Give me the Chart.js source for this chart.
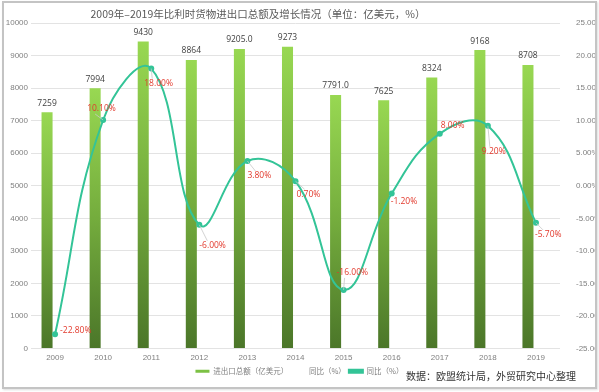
<!DOCTYPE html>
<html>
<head>
<meta charset="utf-8">
<script src="https://cdn.jsdelivr.net/npm/chart.js@4/dist/chart.umd.min.js"></script>
<style>
    html, body { margin: 0; padding: 0; background: #fff; }
    #wrap { position: relative; width: 599px; height: 392px; overflow: hidden; font-family: "Noto Sans CJK SC", "Noto Sans", sans-serif; }
    #frame { position: absolute; left: 2px; top: 1px; right: 2px; bottom: 3px; border: 2px solid #c4c4c4; box-shadow: 1px 1px 2px #ddd; pointer-events: none; }
    #chart { position: absolute; left: 0; top: 0; }
    #title { position: absolute; left: 0; width: 516px; top: 6px; text-align: center; font-size: 10.5px; color: #595959; }
    #source { position: absolute; left: 406px; top: 368px; font-size: 10px; color: #333; }
</style>
</head>
<body>
<div id="wrap">
    <canvas id="chart" width="599" height="392"></canvas>
    <div id="title">2009年–2019年比利时货物进出口总额及增长情况（单位：亿美元，%）</div>
    <div id="source">数据：欧盟统计局，外贸研究中心整理</div>
    <div id="frame"></div>
</div>
<script>
// Data
const years = ["2009", "2010", "2011", "2012", "2013", "2014", "2015", "2016", "2017", "2018", "2019"];
const tradeTotal = [7259, 7994, 9430, 8864, 9205, 9273, 7791, 7625, 8324, 9168, 8708];
const tradeTotalText = ["7259", "7994", "9430", "8864", "9205.0", "9273", "7791.0", "7625", "8324", "9168", "8708"];
const yoyGrowth = [-22.8, 10.1, 18.0, -6.0, 3.8, 0.7, -16.0, -1.2, 8.0, 9.2, -5.7];

// Where each growth label sits relative to its point (dx to left edge, dy to middle)
const growthLabelOffsets = [[5, -4], [-16, -11], [-7, 15], [0, 21], [0, 15], [1, 13], [-7, -17], [-1, 8], [1, -8], [-6, 26], [-1, 12]];

const TICK_COLOR = "#808080";
const GRID_COLOR = "#e3e3e3";
const LINE_COLOR = "#33c497";
const BAR_SWATCH = "#7cc144";

function barGradient(ctx) {
    const chart = ctx.chart;
    if (!chart.chartArea || ctx.raw == null) return BAR_SWATCH;
    const y = chart.scales.y;
    const top = y.getPixelForValue(ctx.raw);
    const bottom = y.getPixelForValue(0);
    const g = chart.ctx.createLinearGradient(0, top, 0, bottom);
    g.addColorStop(0, "#98d852");
    g.addColorStop(0.5, "#74ac3d");
    g.addColorStop(1, "#4b7629");
    return g;
}

// Draws the value labels above the bars and the growth labels near the line
const valueLabels = {
    id: "valueLabels",
    afterDatasetsDraw(chart) {
        const ctx = chart.ctx;
        ctx.save();
        ctx.textBaseline = "middle";

        const bars = chart.getDatasetMeta(0).data;
        ctx.font = "8.5px 'Open Sans', 'Noto Sans', sans-serif";
        ctx.fillStyle = "#404040";
        ctx.textAlign = "center";
        bars.forEach((bar, i) => {
            ctx.fillText(tradeTotalText[i], bar.x, bar.y - 9);
        });

        const points = chart.getDatasetMeta(2).data;
        ctx.textAlign = "left";
        points.forEach((pt, i) => {
            const [dx, dy] = growthLabelOffsets[i];
            const lx = pt.x + dx;
            const ly = pt.y + dy;
            if (Math.abs(dy) > 10) {
                ctx.strokeStyle = "#c8c8c8";
                ctx.lineWidth = 0.8;
                ctx.beginPath();
                ctx.moveTo(pt.x, pt.y);
                ctx.lineTo(lx + 8, ly + (dy > 0 ? -5 : 5));
                ctx.stroke();
            }
            ctx.font = "8.5px 'Open Sans', 'Noto Sans', sans-serif";
            ctx.fillStyle = "#e2392c";
            ctx.fillText(yoyGrowth[i].toFixed(2) + "%", lx, ly);
        });
        ctx.restore();
    }
};

new Chart(document.getElementById("chart").getContext("2d"), {
    type: "bar",
    data: {
        labels: years,
        datasets: [
            {
                label: "进出口总额（亿美元）",
                data: tradeTotal,
                backgroundColor: barGradient,
                yAxisID: "y",
                order: 2,
                categoryPercentage: 0.665,
                barPercentage: 0.69
            },
            {
                label: "同比（%）",
                data: years.map(() => null),
                backgroundColor: "rgba(0,0,0,0)",
                borderWidth: 0,
                yAxisID: "y",
                order: 3,
                categoryPercentage: 0.665,
                barPercentage: 0.69
            },
            {
                type: "line",
                label: "同比（%）",
                data: yoyGrowth,
                yAxisID: "y1",
                borderColor: LINE_COLOR,
                backgroundColor: LINE_COLOR,
                borderWidth: 2,
                pointRadius: 3,
                pointBackgroundColor: LINE_COLOR,
                pointBorderWidth: 0,
                tension: 0.42,
                order: 1
            }
        ]
    },
    options: {
        responsive: false,
        animation: false,
        layout: { padding: { left: 4, right: 4, top: 23, bottom: 7 } },
        plugins: {
            title: { display: false },
            tooltip: { enabled: false },
            legend: {
                position: "bottom",
                align: "center",
                labels: {
                    color: "#808080",
                    font: { size: 7.5, family: "'Noto Sans CJK SC', sans-serif" },
                    boxWidth: 14,
                    boxHeight: 3,
                    padding: 3,
                    sort: (a, b) => a.datasetIndex - b.datasetIndex,
                    generateLabels: (chart) => {
                        const items = Chart.defaults.plugins.legend.labels.generateLabels(chart);
                        items.forEach((it) => {
                            if (it.datasetIndex === 0) {
                                it.fillStyle = BAR_SWATCH;
                                it.strokeStyle = BAR_SWATCH;
                            }
                        });
                        return items;
                    }
                }
            }
        },
        scales: {
            x: {
                offset: true,
                grid: { display: false, drawTicks: false },
                border: { display: false },
                ticks: { color: TICK_COLOR, font: { size: 8 }, padding: 4 },
                afterFit: (s) => { s.height = 16; }
            },
            y: {
                position: "left",
                min: 0,
                max: 10000,
                ticks: { stepSize: 1000, color: TICK_COLOR, font: { size: 8 }, callback: (v) => v },
                grid: { color: GRID_COLOR, drawTicks: false },
                border: { display: false },
                afterFit: (s) => { s.width = 27; }
            },
            y1: {
                position: "right",
                min: -25,
                max: 25,
                ticks: { stepSize: 5, color: TICK_COLOR, font: { size: 8 }, callback: (v) => v.toFixed(2) + "%", padding: 8 },
                grid: { display: false },
                border: { display: false },
                afterFit: (s) => { s.width = 35; }
            }
        }
    },
    plugins: [valueLabels]
});
</script>
</body>
</html>
